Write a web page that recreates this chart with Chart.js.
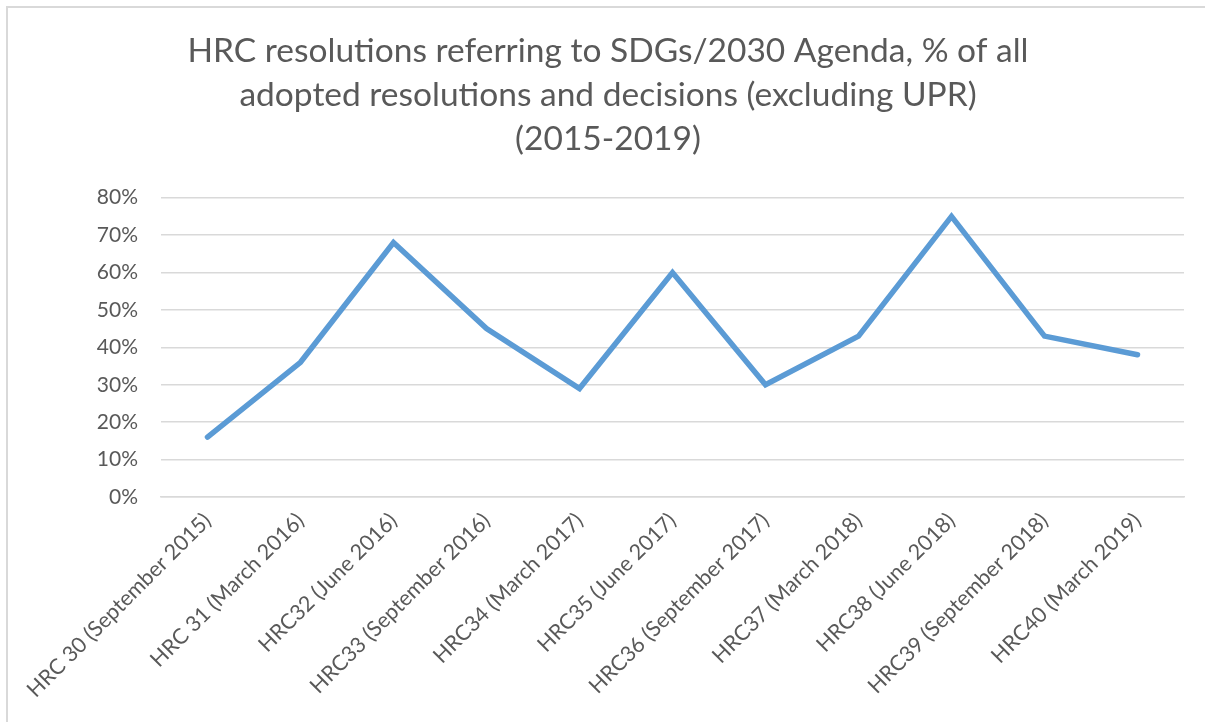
<!DOCTYPE html>
<html>
<head>
<meta charset="utf-8">
<script src="https://cdn.jsdelivr.net/npm/chart.js@4"></script>
<style>
  html, body { margin: 0; padding: 0; background: #ffffff; }
  #wrap { width: 1205px; height: 722px; position: relative; }
</style>
</head>
<body>
<div id="wrap"><canvas id="c" width="1205" height="722"></canvas></div>
<script>
const titleLines = [
  "HRC resolutions referring to SDGs/2030 Agenda, % of all",
  "adopted resolutions and decisions (excluding UPR)",
  "(2015-2019)"
];
const categories = [
  "HRC 30 (September 2015)",
  "HRC 31 (March 2016)",
  "HRC32 (June 2016)",
  "HRC33 (September 2016)",
  "HRC34 (March 2017)",
  "HRC35 (June 2017)",
  "HRC36 (September 2017)",
  "HRC37 (March 2018)",
  "HRC38 (June 2018)",
  "HRC39 (September 2018)",
  "HRC40 (March 2019)"
];
const sharePercent = [16, 36, 68, 45, 29, 60, 30, 43, 75, 43, 38];
const yMin = 0, yMax = 80, yStep = 10;

const textColor = "#595959";
const gridColor = "#d9d9d9";
const lineColor = "#5b9bd5";
const fontFamily = "Lato, 'Open Sans', 'Liberation Sans', sans-serif";

const borderPlugin = {
  id: "outerBorder",
  beforeDraw(chart) {
    const ctx = chart.ctx;
    ctx.save();
    ctx.fillStyle = "#ffffff";
    ctx.fillRect(0, 0, chart.width, chart.height);
    ctx.strokeStyle = gridColor;
    ctx.lineWidth = 2;
    ctx.strokeRect(7, 7, chart.width + 20, chart.height + 20);
    ctx.restore();
  }
};

new Chart(document.getElementById("c"), {
  type: "line",
  data: {
    labels: categories,
    datasets: [{
      label: "Share",
      data: sharePercent,
      borderColor: lineColor,
      backgroundColor: lineColor,
      borderWidth: 5.5,
      pointRadius: 0,
      pointHoverRadius: 0,
      tension: 0,
      borderCapStyle: "round",
      fill: false
    }]
  },
  options: {
    responsive: false,
    devicePixelRatio: 1,
    animation: false,
    layout: { padding: { left: 32, right: 21, top: 0, bottom: 0 } },
    plugins: {
      legend: { display: false },
      tooltip: { enabled: false },
      title: {
        display: true,
        text: titleLines,
        color: textColor,
        font: { family: fontFamily, size: 33.5, weight: "normal", lineHeight: 1.31 },
        padding: { top: 29, bottom: 37 }
      }
    },
    scales: {
      x: {
        type: "category",
        offset: true,
        grid: { display: false, drawTicks: false },
        border: { display: true, color: gridColor, width: 1.5 },
        ticks: {
          color: textColor,
          font: { family: fontFamily, size: 21.5 },
          autoSkip: false,
          minRotation: 45,
          maxRotation: 45,
          padding: 11
        },
        afterFit(scale) { scale.height = 225; }
      },
      y: {
        min: yMin,
        max: yMax,
        grid: { color: gridColor, lineWidth: 1.5, drawTicks: false },
        border: { display: false },
        ticks: {
          stepSize: yStep,
          color: textColor,
          font: { family: fontFamily, size: 21 },
          padding: 23,
          callback: (v) => v + "%"
        },
        afterFit(scale) { scale.width = 129; }
      }
    }
  },
  plugins: [borderPlugin]
});
</script>
</body>
</html>
